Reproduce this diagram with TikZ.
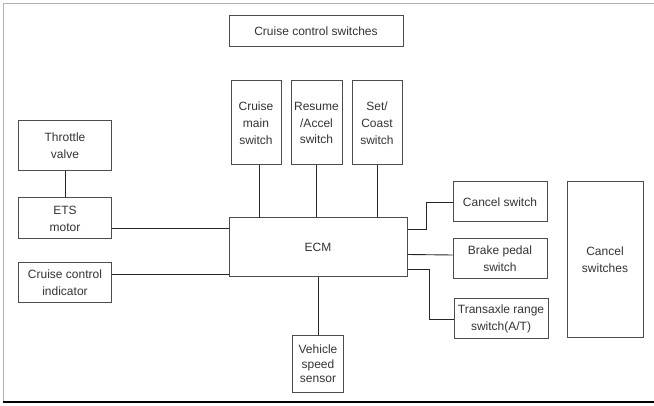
\documentclass[tikz,border=0pt]{standalone}
\usepackage{fontspec}
\setmainfont{Liberation Sans}
\tikzset{%
  % Specifications for style of nodes:
          base/.style = {rectangle, draw=black!70, line width=1pt,
                         inner sep=0pt, align=center, text=black!80,
                         font=\fontsize{12}{16.8}\selectfont},
     switchbox/.style = {base, minimum width=50pt, minimum height=84pt},
       leftbox/.style = {base, minimum width=93pt, minimum height=41pt},
      rightbox/.style = {base, minimum width=94pt, minimum height=40pt},
          wire/.style = {draw=black!85, line width=0.9pt},
}

\begin{document}
\begin{tikzpicture}[x=1pt, y=-1pt]
  \useasboundingbox (0,0) rectangle (654,406);
  % frame
  \draw[gray!60, line width=0.8pt] (654,3) -- (3,3) -- (3,402);
  \draw[line width=1.6pt] (3,402) -- (654,402);

  % Specification of nodes (position, etc.)
\node (ccSwitches) at (316,31.5) [base, minimum width=174pt, minimum height=31pt]
                                                    {Cruise control switches};
\node (mainSw)   at (256,123)   [switchbox]                {Cruise\\main\\switch};
\node (resumeSw) at (316.5,123) [switchbox, minimum width=51pt] {Resume\\/Accel\\switch};
\node (setSw)    at (377,123)   [switchbox]                {Set/\\Coast\\switch};

\node (throttle)  at (65,146)   [leftbox, minimum height=50pt] {Throttle\\valve};
\node (etsMotor)  at (65,218.5) [leftbox]                      {ETS\\motor};
\node (indicator) at (65,283)   [leftbox, minimum height=40pt] {Cruise control\\indicator};

\node (ecm) at (318,247.5) [base, minimum width=178pt, minimum height=59pt] {ECM};

\node (cancelSw)  at (500,202) [rightbox] {Cancel switch};
\node (brakeSw)   at (500,259) [rightbox] {Brake pedal\\switch};
\node (transaxle) at (501,319) [rightbox] {Transaxle range\\switch(A/T)};
\node (cancelSws) at (605,260) [base, minimum width=76pt, minimum height=156pt]
                                          {Cancel\\switches};

\node (speedSensor) at (318,364) [base, minimum width=51pt, minimum height=56pt,
      font=\fontsize{12}{14.5}\selectfont] {Vehicle\\speed\\sensor};

\draw[wire] ([xshift=3pt]mainSw.south) -- ++(0,53);
\draw[wire] (resumeSw.south) -- (resumeSw.south |- ecm.north);
\draw[wire] (setSw.south)    -- (setSw.south |- ecm.north);

\draw[wire] (throttle) -- (etsMotor);
\draw[wire] ([yshift=-9.5pt]etsMotor.east) -- ([yshift=19.5pt]ecm.west);
\draw[wire] ([yshift=9pt]indicator.east)   -- ([yshift=-26.5pt]ecm.west);

\draw[wire] ([yshift=18.5pt]ecm.east) -- ++(19,0) |- (cancelSw);
\draw[wire] ([yshift=-7pt]ecm.east)   -- ([yshift=4pt]brakeSw.west);
\draw[wire] ([yshift=-21.5pt]ecm.east) -- ++(22,0) |- (transaxle);

\draw[wire] (ecm) -- (speedSensor);
\end{tikzpicture}
\end{document}
